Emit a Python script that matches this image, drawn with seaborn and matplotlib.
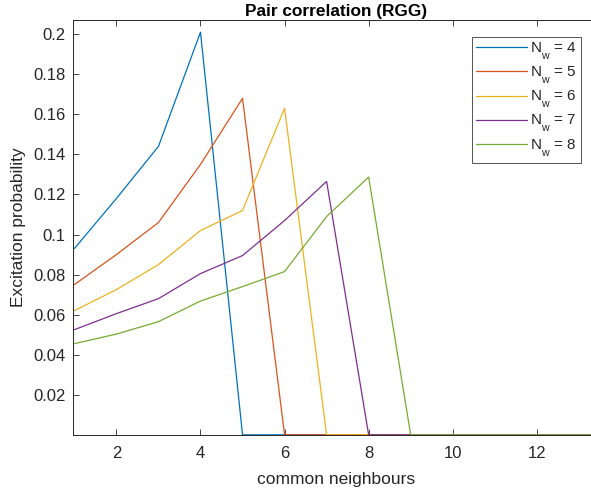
import numpy as np
import pandas as pd
import matplotlib
matplotlib.use("Agg")
import matplotlib.pyplot as plt
import seaborn as sns

try:
    import matplotlib._mathtext as _mt
    _mt.FontConstantsBase.sub1 = 0.8
except Exception:
    pass

sns.set_style("white")
plt.rcParams['font.family'] = ['Liberation Sans', 'DejaVu Sans']
plt.rcParams['mathtext.fontset'] = 'custom'
plt.rcParams['mathtext.rm'] = 'Liberation Sans'

common_neighbours = list(range(1, 15))
nw_labels = ["4", "5", "6", "7", "8"]
p_nw4 = [0.093, 0.118, 0.144, 0.201, 0, 0, 0, 0, 0, 0, 0, 0, 0, 0]
p_nw5 = [0.075, 0.090, 0.106, 0.135, 0.168, 0, 0, 0, 0, 0, 0, 0, 0, 0]
p_nw6 = [0.062, 0.0725, 0.085, 0.102, 0.112, 0.163, 0, 0, 0, 0, 0, 0, 0, 0]
p_nw7 = [0.0525, 0.0605, 0.068, 0.0805, 0.0895, 0.107, 0.1265, 0, 0, 0, 0, 0, 0, 0]
p_nw8 = [0.0455, 0.0503, 0.0565, 0.0668, 0.074, 0.0815, 0.109, 0.1287, 0, 0, 0, 0, 0, 0]
series = [p_nw4, p_nw5, p_nw6, p_nw7, p_nw8]
colors = ["#0072BD", "#D95319", "#EDB120", "#7E2F8E", "#77AC30"]
yticks = [0.02, 0.04, 0.06, 0.08, 0.1, 0.12, 0.14, 0.16, 0.18, 0.2]
ytick_labels = ["0.02", "0.04", "0.06", "0.08", "0.1", "0.12", "0.14", "0.16", "0.18", "0.2"]
xticks = [2, 4, 6, 8, 10, 12]

names = [r"N$_{\mathrm{w}}$ = " + l for l in nw_labels]
rows = []
for name, vals in zip(names, series):
    for x, y in zip(common_neighbours, vals):
        rows.append({"x": x, "y": y, "Nw": name})
df = pd.DataFrame(rows)

fig = plt.figure(figsize=(5.91, 4.93), dpi=100)
ax = fig.add_axes([0.123, 0.118, 1.015 - 0.123, 0.959 - 0.118])
sns.lineplot(data=df, x="x", y="y", hue="Nw", hue_order=names,
             palette=colors, linewidth=0.9, ax=ax, legend=True)

ax.set_xlim(0.96, 13.5)
ax.set_ylim(0, 0.207)
ax.set_xticks(xticks)
ax.set_yticks(yticks)
ax.set_yticklabels(ytick_labels)
gray = "#262626"
ax.tick_params(direction="in", length=4, width=0.6, colors=gray, labelsize=12,
               top=True, right=True, bottom=True, left=True)
ax.tick_params(axis="x", pad=8)
ax.tick_params(axis="y", pad=5)
for s in ax.spines.values():
    s.set_color(gray)
    s.set_linewidth(0.7)
ax.set_xlabel("common neighbours", fontsize=12.5, color=gray, labelpad=8)
ax.set_ylabel("Excitation probability", fontsize=12.5, color=gray, labelpad=5)
ax.set_title("Pair correlation (RGG)", fontsize=12.4, fontweight="bold", color="black", pad=3)

leg = ax.legend(loc="upper right", bbox_to_anchor=(0.983, 0.9256),
                bbox_transform=fig.transFigure, borderaxespad=0,
                fancybox=False, frameon=True, fontsize=11, handlelength=3.3,
                labelspacing=0.2, borderpad=0.25, handletextpad=0.25)
leg.get_frame().set_edgecolor(gray)
leg.get_frame().set_linewidth(0.7)
for line in leg.get_lines():
    line.set_linewidth(0.9)

fig.savefig("out.png", dpi=100)
